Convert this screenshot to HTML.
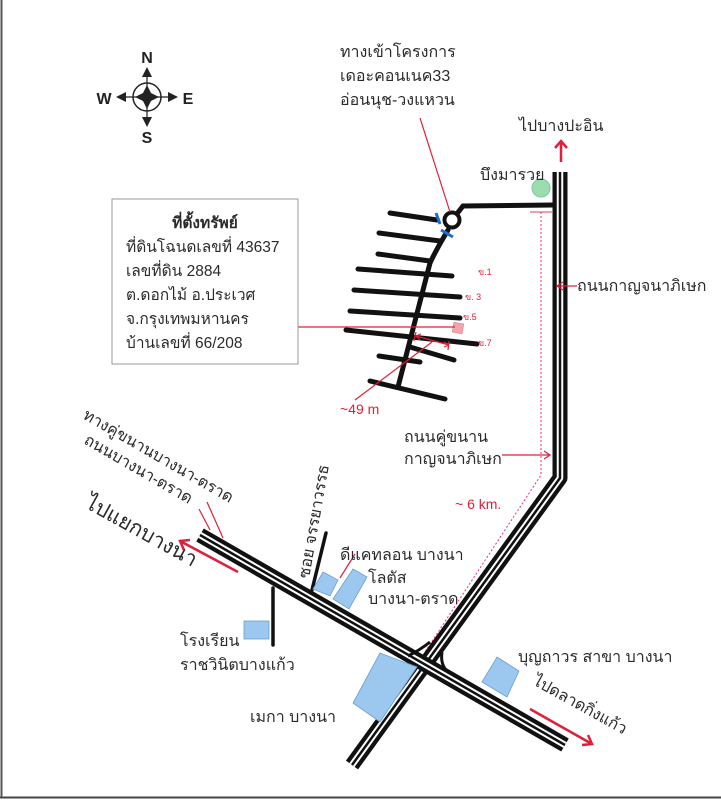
<!DOCTYPE html>
<html><head><meta charset="utf-8"><style>
html,body{margin:0;padding:0;background:#fff}
svg{display:block}
text{font-family:"Liberation Sans","Noto Sans CJK SC",sans-serif}
</style></head><body>
<svg width="721" height="800" viewBox="0 0 721 800" xmlns="http://www.w3.org/2000/svg">
<rect x="0" y="0" width="721" height="800" fill="#fff"/>
<line x1="1.5" y1="0" x2="1.5" y2="798" stroke="#555" stroke-width="2"/>
<line x1="0" y1="797.5" x2="721" y2="797.5" stroke="#444" stroke-width="2"/>

<!-- compass -->
<g fill="#222" stroke="#222">
<circle cx="147" cy="97" r="14" fill="none" stroke-width="1.5"/>
<line x1="121" y1="97" x2="173" y2="97" stroke-width="1.2"/>
<line x1="147" y1="72" x2="147" y2="122" stroke-width="1.2"/>
<polygon points="147,85 151,93 159,97 151,101 147,109 143,101 135,97 143,93" stroke="none"/>
<polygon points="147,67 142,77 152,77" stroke="none"/>
<polygon points="147,127 142,117 152,117" stroke="none"/>
<polygon points="116,97 126,92 126,102" stroke="none"/>
<polygon points="178,97 168,92 168,102" stroke="none"/>
</g>
<g font-weight="bold" font-size="16" fill="#222" text-anchor="middle">
<text x="147" y="63">N</text><text x="147" y="143">S</text>
<text x="104" y="104">W</text><text x="188" y="104">E</text>
</g>

<!-- dotted red distance line -->
<path d="M541,212 L541,475 L425,652" fill="none" stroke="#e36" stroke-width="1" stroke-dasharray="2,2"/>
<line x1="530" y1="212" x2="552" y2="212" stroke="#e36" stroke-width="1"/>

<!-- main roads -->
<g fill="none" stroke-linejoin="round">
<path d="M560,172 L560,478 L352,765" stroke="#111" stroke-width="15"/>
<path d="M560,172 L560,478 L352,765" stroke="#fff" stroke-width="6.5"/>
<path d="M560,172 L560,478 L352,765" stroke="#111" stroke-width="2.5"/>
<path d="M200,535 L565,745" stroke="#111" stroke-width="15"/>
<path d="M200,535 L565,745" stroke="#fff" stroke-width="6.5"/>
<path d="M200,535 L565,745" stroke="#111" stroke-width="2.5"/>
<path d="M408,656 Q420,650 430,642 M448,672 Q440,665 442,652" stroke="#111" stroke-width="3"/>
</g>

<!-- side roads -->
<g stroke="#111" stroke-width="3.5" fill="none" stroke-linecap="round">
<line x1="326" y1="533" x2="312" y2="590"/>
<line x1="273" y1="588" x2="273" y2="645"/>
</g>

<!-- soi network -->
<g stroke="#111" stroke-width="5" fill="none" stroke-linecap="round">
<path d="M456,215 L463,206 L553,205"/>
<path d="M448,230 Q436,250 430,263 L398,387"/>
<line x1="390" y1="213" x2="437" y2="220"/>
<line x1="379" y1="233" x2="440" y2="241"/>
<line x1="378" y1="254" x2="430" y2="261"/>
<line x1="358" y1="269" x2="452" y2="276"/>
<line x1="354" y1="290" x2="460" y2="297"/>
<line x1="350" y1="311" x2="460" y2="318"/>
<line x1="346" y1="330" x2="477" y2="344"/>
<line x1="410" y1="347" x2="454" y2="360"/>
<line x1="379" y1="356" x2="420" y2="362"/>
<line x1="370" y1="381" x2="445" y2="399"/>
</g>
<circle cx="452" cy="220" r="7.5" fill="#fff" stroke="#111" stroke-width="4"/>
<line x1="436" y1="213" x2="440" y2="224" stroke="#1a6fd0" stroke-width="3"/>
<line x1="441" y1="230" x2="453" y2="237" stroke="#1a6fd0" stroke-width="3"/>
<rect x="453" y="323" width="10" height="10" fill="#f2a3ad" stroke="#d77" stroke-width="0.5" transform="rotate(10 458 328)"/>
<circle cx="541" cy="188" r="9" fill="#9ddbb0" stroke="#7c9" stroke-width="1"/>

<!-- red leaders -->
<g stroke="#e0203a" stroke-width="1.2" fill="none">
<line x1="298" y1="327" x2="455" y2="327"/>
<line x1="420" y1="118" x2="450" y2="212"/>
<line x1="355" y1="400" x2="432" y2="342"/>
<path d="M416,336 L449,345 M416,332 L414,341 M449,341 L448,350 M416,336 L421,334 M416,336 L420,340 M449,345 L444,342 M449,345 L444,347"/>
<line x1="577" y1="286" x2="558" y2="286"/><path d="M563,282 L557,286 L563,290"/>
<line x1="502" y1="455" x2="550" y2="455"/><path d="M544,451 L550,455 L544,459"/>
<line x1="340" y1="578" x2="355" y2="554"/>
<line x1="199" y1="509" x2="210" y2="530"/>
<line x1="207" y1="502" x2="223" y2="538"/>
</g>
<g stroke="#e0203a" stroke-width="2.5" fill="none">
<line x1="561" y1="162" x2="561" y2="141"/><path d="M555,148 L561,141 L567,148"/>
<line x1="238" y1="572" x2="180" y2="541"/><path d="M184,550 L180,541 L190,540"/>
<line x1="530" y1="709" x2="592" y2="744"/><path d="M588,735 L592,744 L582,745"/>
</g>

<!-- blue blocks -->
<g fill="#9cc7ee" stroke="#6b9fd0" stroke-width="0.8">
<polygon points="323,572 338,580 330,596 313,589"/>
<polygon points="353,569 367,577 349,609 333,599"/>
<rect x="244" y="621" width="25" height="18"/>
<polygon points="380,653 417,667 380,722 353,703"/>
<polygon points="497,657 519,671 507,697 482,682"/>
</g>

<!-- info box -->
<rect x="112" y="199" width="186" height="165" fill="#fff" stroke="#999" stroke-width="1"/>
<g font-size="15.5" fill="#2a2a2a">
<text x="205" y="228" text-anchor="middle" font-weight="bold">ที่ตั้งทรัพย์</text>
<text x="126" y="252">ที่ดินโฉนดเลขที่ 43637</text>
<text x="126" y="276">เลขที่ดิน 2884</text>
<text x="126" y="300">ต.ดอกไม้ อ.ประเวศ</text>
<text x="126" y="324">จ.กรุงเทพมหานคร</text>
<text x="126" y="348">บ้านเลขที่ 66/208</text>
</g>

<!-- labels -->
<g font-size="16" fill="#2a2a2a">
<text x="340" y="57">ทางเข้าโครงการ</text>
<text x="340" y="81">เดอะคอนเนค33</text>
<text x="340" y="105">อ่อนนุช-วงแหวน</text>
<text x="519" y="131">ไปบางปะอิน</text>
<text x="480" y="180">บึงมารวย</text>
<text x="577" y="291">ถนนกาญจนาภิเษก</text>
<text x="404" y="442">ถนนคู่ขนาน</text>
<text x="404" y="464">กาญจนาภิเษก</text>
<text x="340" y="560">ดีแคทลอน บางนา</text>
<text x="368" y="583">โลตัส</text>
<text x="368" y="604">บางนา-ตราด</text>
<text x="180" y="646">โรงเรียน</text>
<text x="180" y="670">ราชวินิตบางแก้ว</text>
<text x="250" y="722">เมกา บางนา</text>
<text x="518" y="662">บุญถาวร สาขา บางนา</text>
<text transform="translate(82,418) rotate(30)">ทางคู่ขนานบางนา-ตราด</text>
<text transform="translate(83,443) rotate(30)">ถนนบางนา-ตราด</text>
<text transform="translate(309,579) rotate(-80)">ซอย จรรยาวรรธ</text>
<text transform="translate(532,684) rotate(29)">ไปดลาดกิ่งแก้ว</text>
<text transform="translate(84,507) rotate(29)" font-size="21">ไปแยกบางนา</text>
</g>
<g fill="#e0203a">
<text x="478" y="275" font-size="9">ข.1</text>
<text x="465" y="300" font-size="9">ข. 3</text>
<text x="463" y="320" font-size="9">ข.5</text>
<text x="478" y="346" font-size="9">ข.7</text>
<text x="340" y="414" font-size="14">~49 m</text>
<text x="455" y="509" font-size="14">~ 6 km.</text>
</g>
</svg>
</body></html>
